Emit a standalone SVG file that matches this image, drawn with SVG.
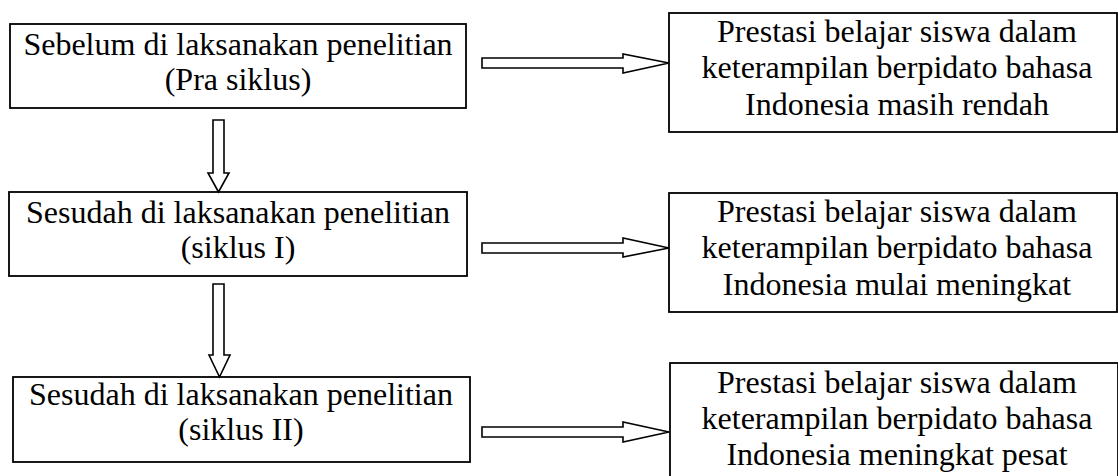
<svg xmlns="http://www.w3.org/2000/svg" width="1118" height="476" viewBox="0 0 1118 476">
  <style>
    .box { fill: #ffffff; stroke: #000000; stroke-width: 1.8; }
    .arrow { fill: #ffffff; stroke: #000000; stroke-width: 1.6; stroke-linejoin: miter; }
    .label { font-family: "Liberation Serif", "Times New Roman", serif; font-size: 32px; fill: #000000; text-anchor: middle; }
  </style>
  <rect width="1118" height="476" fill="#ffffff"/>

  <!-- left column: research stages -->
  <g id="stage-pra">
    <rect class="box" x="10" y="24" width="456" height="84"/>
    <text class="label" x="238" y="55">Sebelum di laksanakan penelitian</text>
    <text class="label" x="238" y="90">(Pra siklus)</text>
  </g>
  <g id="stage-siklus1">
    <rect class="box" x="9" y="192" width="458" height="84"/>
    <text class="label" x="238" y="223">Sesudah di laksanakan penelitian</text>
    <text class="label" x="238" y="258">(siklus I)</text>
  </g>
  <g id="stage-siklus2">
    <rect class="box" x="13" y="377" width="457" height="85"/>
    <text class="label" x="241" y="405">Sesudah di laksanakan penelitian</text>
    <text class="label" x="241" y="440">(siklus II)</text>
  </g>

  <!-- right column: outcomes -->
  <g id="result-pra">
    <rect class="box" x="669" y="13" width="448" height="119"/>
    <text class="label" x="897" y="42">Prestasi belajar siswa dalam</text>
    <text class="label" x="897" y="78">keterampilan berpidato bahasa</text>
    <text class="label" x="897" y="115">Indonesia masih rendah</text>
  </g>
  <g id="result-siklus1">
    <rect class="box" x="669" y="193" width="448" height="119"/>
    <text class="label" x="897" y="222">Prestasi belajar siswa dalam</text>
    <text class="label" x="897" y="258">keterampilan berpidato bahasa</text>
    <text class="label" x="897" y="295">Indonesia mulai meningkat</text>
  </g>
  <g id="result-siklus2">
    <rect class="box" x="670" y="363" width="448" height="119"/>
    <text class="label" x="897" y="393">Prestasi belajar siswa dalam</text>
    <text class="label" x="897" y="429">keterampilan berpidato bahasa</text>
    <text class="label" x="897" y="465">Indonesia meningkat pesat</text>
  </g>

  <!-- block arrows -->
  <g id="connectors">
    <!-- horizontal: stage to outcome -->
    <polygon class="arrow" points="482,58 623,58 623,54 669,63 623,73 623,68 482,68"/>
    <polygon class="arrow" points="482,243 623,243 623,238 669,248 623,257 623,253 482,253"/>
    <polygon class="arrow" points="482,427 623,427 623,422 669,432 623,442 623,437 482,437"/>
    <!-- vertical: stage to next stage -->
    <polygon class="arrow" points="213,120 224,120 224,173 229,173 218.5,192 208,173 213,173"/>
    <polygon class="arrow" points="213,284 224,284 224,355 230,355 219.5,377 209,355 213,355"/>
  </g>
</svg>
